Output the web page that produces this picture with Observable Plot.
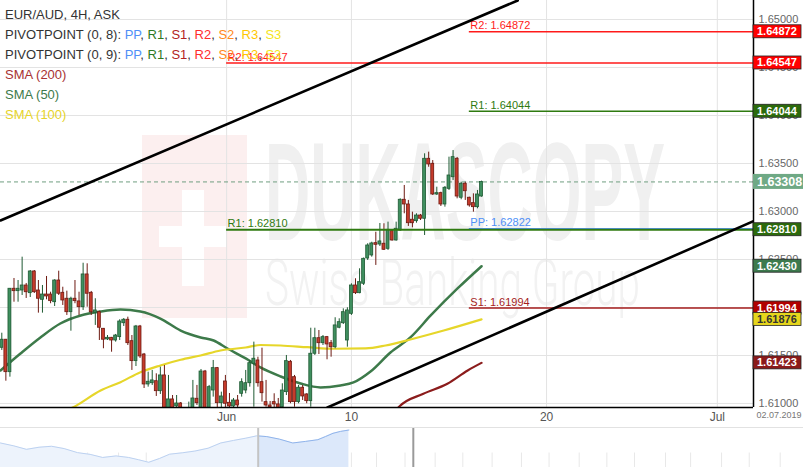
<!DOCTYPE html>
<html>
<head>
<meta charset="utf-8">
<script src="https://cdn.jsdelivr.net/npm/d3@7"></script>
<script src="https://cdn.jsdelivr.net/npm/@observablehq/plot@0.6"></script>
<style>
  body { margin: 0; background: #fff; font-family: "Liberation Sans", Arial, sans-serif; }
  #wrap { position: relative; width: 803px; height: 467px; overflow: hidden; background: #fff; }
  #nav { border-top: 1px solid #e2e2e2; }
  #legend { position: absolute; left: 5px; top: 5px; font-size: 13px; line-height: 20px; color: #333; pointer-events: none; white-space: nowrap; }
  .pp { color: #4f8ff7; } .r1 { color: #2f7a1f; } .s1 { color: #b22222; } .r2 { color: #ff2d2d; }
  .s2 { color: #ff8a1c; } .r3 { color: #ffc800; } .s3 { color: #f5e51a; }
</style>
</head>
<body>
<div id="wrap">
  <div id="main"></div>
  <div id="nav"></div>
  <div id="legend">
    <div>EUR/AUD, 4H, ASK</div>
    <div>PIVOTPOINT (0, 8): <span class="pp">PP</span>, <span class="r1">R1</span>, <span class="s1">S1</span>, <span class="r2">R2</span>, <span class="s2">S2</span>, <span class="r3">R3</span>, <span class="s3">S3</span></div>
    <div>PIVOTPOINT (0, 9): <span class="pp">PP</span>, <span class="r1">R1</span>, <span class="s1">S1</span>, <span class="r2">R2</span>, <span class="s2">S2</span>, <span class="r3">R3</span>, <span class="s3">S3</span></div>
    <div style="color:#a83232">SMA (200)</div>
    <div style="color:#3d7a4a">SMA (50)</div>
    <div style="color:#e6d42a">SMA (100)</div>
  </div>
</div>
<script>
// ---------- DATA ----------
const opens = [
1.61580,1.61664,1.61326,1.62195,1.62170,1.62177,1.62229,1.62149,1.62375,1.62177,
1.62080,1.62135,1.62135,1.62055,1.62281,1.62153,1.62091,1.61951,1.62091,1.62063,
1.62003,1.62344,1.62153,1.61945,1.61951,1.61778,1.61667,1.61684,1.61656,1.61691,
1.61836,1.61872,1.61649,1.61441,1.61802,1.61510,1.61198,1.61211,1.61232,1.61128,
1.61292,1.60906,1.61042,1.60969,1.61000,1.60927,1.60844,1.60927,1.61049,1.60927,
1.61333,1.60927,1.61135,1.61368,1.61003,1.61229,1.61007,1.60969,1.61031,1.61101,
1.61135,1.61211,1.61414,1.61448,1.61222,1.61014,1.60979,1.61014,1.60990,1.60961,
1.61118,1.61434,1.61274,1.61014,1.61164,1.61094,1.61024,1.61518,1.61680,1.61628,
1.61691,1.61628,1.61586,1.61789,1.61836,1.61656,1.61934,1.62229,1.62149,1.62247,
1.62510,1.62542,1.62670,1.62656,1.62664,1.62611,1.62795,1.62698,1.62802,1.63122,
1.63073,1.62914,1.62899,1.62958,1.62924,1.63549,1.63497,1.63177,1.63191,1.63073,
1.63236,1.63357,1.63549,1.63143,1.63289,1.63143,1.63087,1.63045,1.63156];
const highs = [
1.61732,1.61667,1.62198,1.62302,1.62281,1.62524,1.62250,1.62385,1.62385,1.62281,
1.62229,1.62323,1.62159,1.62289,1.62378,1.62211,1.62170,1.62107,1.62281,1.62159,
1.62461,1.62455,1.62167,1.62091,1.61961,1.61781,1.61708,1.61688,1.61719,1.61872,
1.61885,1.61899,1.61708,1.61813,1.61813,1.61521,1.61326,1.61344,1.61309,1.61378,
1.61396,1.61292,1.61083,1.61083,1.61010,1.60948,1.61014,1.61240,1.61188,1.61354,
1.61344,1.61188,1.61448,1.61375,1.61118,1.61292,1.61104,1.61052,1.61083,1.61257,
1.61344,1.61448,1.61639,1.61482,1.61576,1.61240,1.61021,1.61101,1.61052,1.61205,
1.61500,1.61448,1.61292,1.61188,1.61188,1.61101,1.61784,1.61784,1.61760,1.61708,
1.61698,1.61656,1.61893,1.61882,1.61986,1.61997,1.62247,1.62299,1.62403,1.62515,
1.62664,1.62680,1.62784,1.62875,1.62872,1.62889,1.62802,1.62889,1.63132,1.63271,
1.63115,1.62993,1.62976,1.62969,1.63601,1.63618,1.63531,1.63253,1.63201,1.63260,
1.63566,1.63635,1.63563,1.63305,1.63305,1.63149,1.63184,1.63219,1.63316];
const lows = [
1.61552,1.61232,1.61274,1.62055,1.62055,1.62125,1.62094,1.62104,1.62146,1.61941,
1.61941,1.62080,1.62039,1.62010,1.62125,1.62021,1.61917,1.61753,1.62039,1.61917,
1.61969,1.62003,1.61917,1.61813,1.61656,1.61570,1.61656,1.61534,1.61639,1.61656,
1.61802,1.61604,1.61344,1.61385,1.61469,1.61156,1.61170,1.61188,1.61073,1.61094,
1.60823,1.60771,1.60823,1.60875,1.60844,1.60771,1.60771,1.60875,1.60979,1.60875,
1.60823,1.60875,1.61066,1.60927,1.60927,1.60927,1.60906,1.60875,1.60906,1.61066,
1.61101,1.61170,1.60961,1.61170,1.61014,1.60961,1.60906,1.60948,1.60906,1.60927,
1.61083,1.60997,1.60961,1.60997,1.61031,1.60997,1.60961,1.61500,1.61510,1.61604,
1.61455,1.61482,1.61570,1.61778,1.61823,1.61586,1.61917,1.62135,1.62143,1.62229,
1.62490,1.62524,1.62438,1.62635,1.62594,1.62594,1.62691,1.62691,1.62795,1.62976,
1.62844,1.62830,1.62878,1.62906,1.62750,1.63461,1.63167,1.63167,1.63052,1.63045,
1.63219,1.63323,1.63132,1.63122,1.63115,1.63045,1.62993,1.63028,1.63149];
const closes = [
1.61664,1.61326,1.62195,1.62170,1.62195,1.62229,1.62159,1.62375,1.62159,1.62091,
1.62135,1.62115,1.62066,1.62281,1.62143,1.62073,1.61951,1.62091,1.62066,1.62003,
1.62344,1.62143,1.61951,1.61969,1.61789,1.61664,1.61684,1.61656,1.61708,1.61854,
1.61872,1.61628,1.61441,1.61802,1.61490,1.61198,1.61226,1.61240,1.61128,1.61292,
1.60906,1.61042,1.60927,1.61000,1.60927,1.60844,1.60927,1.61052,1.61003,1.61333,
1.60906,1.61170,1.61368,1.61003,1.61073,1.60997,1.60969,1.61031,1.60979,1.61222,
1.61211,1.61420,1.61466,1.61211,1.61107,1.60979,1.60958,1.60990,1.60948,1.61135,
1.61441,1.61014,1.61014,1.61164,1.61073,1.61024,1.61518,1.61680,1.61628,1.61691,
1.61615,1.61586,1.61813,1.61847,1.61951,1.61969,1.62229,1.62149,1.62264,1.62507,
1.62646,1.62667,1.62653,1.62688,1.62601,1.62809,1.62698,1.62820,1.63122,1.63073,
1.62878,1.62878,1.62958,1.62924,1.63549,1.63490,1.63177,1.63191,1.63073,1.63247,
1.63375,1.63566,1.63156,1.63289,1.63211,1.63063,1.63045,1.63177,1.63308];

// moving averages: [candle index, value]
const sma50 = [[-0.32,1.61344],[4.6,1.61521],[9.5,1.61688],[14.4,1.61833],[19.4,1.61917],[24.3,1.61958],[29.2,1.61979],[34.1,1.61958],[39.0,1.61885],[44.0,1.61760],[48.9,1.61688],[52.1,1.61656],[55.5,1.61573],[60.0,1.61469],[63.6,1.61375],[68.6,1.61281],[73.5,1.61208],[78.4,1.61167],[83.3,1.61188],[86.5,1.61219],[90.7,1.61333],[95.6,1.61531],[100.5,1.61688],[105.5,1.61917],[112.1,1.62198],[118,1.62430]];
const sma100 = [[15.9,1.60927],[17.6,1.60961],[24.3,1.61135],[29.2,1.61222],[34.1,1.61326],[39.0,1.61396],[44.0,1.61455],[48.9,1.61500],[53.8,1.61552],[60.0,1.61583],[63.6,1.61609],[68.6,1.61604],[75.2,1.61586],[81.6,1.61570],[89.5,1.61573],[94.4,1.61604],[100.5,1.61667],[108.7,1.61760],[118,1.61876]];
const sma200 = [[96.9,1.60927],[97.6,1.60961],[103.7,1.61101],[109.6,1.61205],[114.6,1.61344],[118,1.61423]];

// channel trend lines: [candle index, price]
const upperChannel = [[-0.32,1.62906],[126.9,1.65198]];
const lowerChannel = [[80.1,1.60958],[184.9,1.62900]];

// pivot levels
const pivotNames  = ["R2","R2","R1","PP","R1","S1"];
const pivotValues = [1.64872,1.64547,1.64044,1.62822,1.62810,1.61994];
const pivotStarts = [115,55.3,115,115,55.3,115];
const pivotColors = ["#ff1a1a","#ff1a1a","#2f7a10","#4f8ff7","#2f7a10","#a51c1c"];
const pivotWidths = [1.4,1.4,1.4,1,2,1.4];

// price tags on right axis
const tagValues  = [1.64872,1.64547,1.64044,1.63308,1.62810,1.62430,1.61994,1.61876,1.61423];
const tagFills   = ["#ff0000","#ff0000","#2c6a0c","#6fa985","#2c6a0c","#3d7a4e","#b00000","#e6d61c","#8b1a1a"];
const tagText    = ["#fff","#fff","#fff","#fff","#fff","#fff","#fff","#333","#fff"];
const currentPrice = 1.63308;

// axes
const priceTicks = [1.61,1.615,1.62,1.625,1.63,1.635,1.64,1.645,1.65];
const dateTickPos = [55.3,86,134,176];
const dateTickLabels = ["Jun","10","20","Jul"];
const dateStamp = "02.07.2019";

// navigator series: [candle index, close]
const navIdx = [-308,-292,-277,-262,-247,-232,-216,-201,-186,-170,-155,-143,-131,-118,-106,-91,-76,-60,-45,-30,-15,-2,10,25,41,56,71,80,89,98,108];
const navVal = [1.6277,1.6262,1.6244,1.6255,1.6260,1.6248,1.6227,1.6218,1.6202,1.6210,1.6202,1.6190,1.6177,1.6197,1.6219,1.6226,1.6235,1.6250,1.6277,1.6290,1.6302,1.6314,1.6310,1.6297,1.6277,1.6285,1.6294,1.6310,1.6327,1.6337,1.6344];
const navGrid = [-271,-204,-167,-134,-63,37,111,141,175,211,244,279,314,347,383,416,449,486,516,553,586,623];

// ---------- CHART ----------
const xDomain = [-0.32, 184.9];
const yDomain = [1.60958, 1.65198];
const candles = opens.map((o, i) => ({i, o, h: highs[i], l: lows[i], c: closes[i], up: closes[i] >= o}));
const pivots = pivotValues.map((v, k) => ({name: pivotNames[k], v, start: pivotStarts[k], color: pivotColors[k], w: pivotWidths[k]}));
const pt = ([i, v]) => ({i, v});

const main = Plot.plot({
  width: 803, height: 427,
  marginTop: 0, marginBottom: 20, marginLeft: 0, marginRight: 50,
  style: {background: "transparent", fontFamily: "'Liberation Sans', Arial, sans-serif", fontSize: "11px", color: "#666", overflow: "visible"},
  x: {domain: xDomain, ticks: dateTickPos, tickFormat: d => dateTickLabels[dateTickPos.indexOf(d)], tickSize: 0, tickPadding: 5, label: null},
  y: {domain: yDomain, axis: "right", ticks: priceTicks, tickFormat: d => d.toFixed(5), tickSize: 0, tickPadding: 5, label: null},
  marks: [
    Plot.ruleY(priceTicks, {stroke: "#e3e3e3"}),
    Plot.ruleX(dateTickPos, {stroke: "#e3e3e3"}),
    Plot.ruleY([currentPrice], {stroke: "#6f9f80", strokeDasharray: "4,3"}),
    Plot.line(sma50.map(pt), {x: "i", y: "v", stroke: "#3d7a4a", strokeWidth: 2.5, curve: "monotone-x", clip: true}),
    Plot.line(sma100.map(pt), {x: "i", y: "v", stroke: "#e6d62a", strokeWidth: 2.2, curve: "monotone-x", clip: true}),
    Plot.line(sma200.map(pt), {x: "i", y: "v", stroke: "#8b1c1c", strokeWidth: 2.2, curve: "monotone-x", clip: true}),
    Plot.ruleX(candles, {x: "i", y1: "l", y2: "h", stroke: d => d.up ? "#1f5a33" : "#6e1a12", strokeWidth: 1, clip: true}),
    Plot.rect(candles, {x1: d => d.i - 0.36, x2: d => d.i + 0.36, y1: "o", y2: "c", fill: d => d.up ? "#3f8f5f" : "#c63b2b", stroke: d => d.up ? "#1f5a33" : "#6e1a12", strokeWidth: 0.8, clip: true}),
    Plot.ruleY(pivots, {y: "v", x1: "start", x2: () => xDomain[1], stroke: "color", strokeWidth: "w", clip: true}),
    Plot.text(pivots, {x: "start", y: "v", text: d => `${d.name}: ${d.v.toFixed(5)}`, fill: "color", textAnchor: "start", dx: 1, dy: -6, fontSize: 11}),
    Plot.line(upperChannel.map(pt), {x: "i", y: "v", stroke: "#000", strokeWidth: 2.6, clip: true}),
    Plot.line(lowerChannel.map(pt), {x: "i", y: "v", stroke: "#000", strokeWidth: 2.6, clip: true}),
    Plot.ruleX([xDomain[1]], {stroke: "#000", strokeWidth: 1.5}),
    Plot.ruleY([yDomain[0]], {stroke: "#000", strokeWidth: 1.5}),
    Plot.text([dateStamp], {text: d => d, frameAnchor: "bottom-right", dx: 3, dy: 10, textAnchor: "start", fontSize: 9, fill: "#777"})
  ]
});
document.getElementById("main").appendChild(main);

const svg = d3.select(main);
// x-axis label style
svg.selectAll('g[aria-label="x-axis tick label"] text, g[aria-label="x-axis"] text').attr("font-size", 12).attr("fill", "#555");

// watermark (decoration) behind everything
const wm = svg.insert("g", ":first-child").attr("pointer-events", "none").attr("text-anchor", "start");
wm.append("rect").attr("x", 142).attr("y", 135).attr("width", 105).attr("height", 183).attr("fill", "#fcefef");
wm.append("rect").attr("x", 182).attr("y", 190).attr("width", 22).attr("height", 96).attr("fill", "#fff");
wm.append("rect").attr("x", 159).attr("y", 226).attr("width", 68).attr("height", 21).attr("fill", "#fff");
wm.append("text").text("DUKASCOPY").attr("x", 265).attr("y", 240).attr("font-size", 140).attr("font-weight", "bold")
  .attr("font-family", "'Liberation Sans', Arial, sans-serif").attr("fill", "#f0f0f0").attr("text-anchor", "start")
  .attr("textLength", 400).attr("lengthAdjust", "spacingAndGlyphs");
wm.append("text").text("Swiss Banking Group").attr("x", 265).attr("y", 305).attr("font-size", 64).attr("font-weight", 300)
  .attr("font-family", "Roboto, 'Liberation Sans', sans-serif").attr("fill", "#f2f2f2").attr("text-anchor", "start")
  .attr("textLength", 375).attr("lengthAdjust", "spacingAndGlyphs");

// price tags on the right axis, positioned via Plot's y scale
const ys = main.scale("y");
const xs = main.scale("x");
const axisX = xs.apply(xDomain[1]);
const tags = svg.append("g").attr("text-anchor", "start");
tagValues.forEach((v, k) => {
  const py = ys.apply(v);
  const isCur = v === currentPrice;
  const h = isCur ? 15 : 13;
  tags.append("rect").attr("x", axisX).attr("y", py - h / 2).attr("width", isCur ? 803 - axisX : 48).attr("height", h)
    .attr("fill", tagFills[k]).attr("stroke", isCur ? "none" : "#222").attr("stroke-width", 0.8);
  tags.append("text").text(v.toFixed(5)).attr("x", axisX + 4).attr("y", py).attr("dy", "0.36em")
    .attr("text-anchor", "start")
    .attr("font-size", isCur ? 12.5 : 11).attr("font-weight", "bold").attr("fill", tagText[k])
    .attr("font-family", "'Liberation Sans', Arial, sans-serif");
});

// ---------- NAVIGATOR ----------
const navData = navIdx.map((n, k) => ({n, v: navVal[k]}));
const nav = Plot.plot({
  width: 803, height: 39, margin: 0,
  style: {background: "#fff", overflow: "visible"},
  x: {domain: [-308, 650.8], axis: null},
  y: {domain: [1.615, 1.6352], axis: null},
  marks: [
    Plot.ruleX(navGrid, {y1: 1.615, y2: 1.6225, stroke: "#e8e8e8"}),
    Plot.areaY(navData, {x: "n", y1: 1.615, y2: "v", fill: "url(#navFill)"}),
    Plot.line(navData, {x: "n", y: "v", stroke: "url(#navStroke)", strokeWidth: 1}),
    Plot.ruleX([xDomain[0]], {stroke: "#c4c4c4", strokeWidth: 2}),
    Plot.ruleX([xDomain[1]], {stroke: "#9a9a9a", strokeWidth: 2})
  ]
});
document.getElementById("nav").appendChild(nav);
const sx = nav.scale("x").apply(xDomain[0]) / 803;
const defs = d3.select(nav).insert("defs", ":first-child");
const g1 = defs.append("linearGradient").attr("id", "navFill").attr("gradientUnits", "userSpaceOnUse").attr("x1", 0).attr("x2", 803).attr("y1", 0).attr("y2", 0);
g1.append("stop").attr("offset", sx).attr("stop-color", "#edf3fc");
g1.append("stop").attr("offset", sx).attr("stop-color", "#dce8fa");
const g2 = defs.append("linearGradient").attr("id", "navStroke").attr("gradientUnits", "userSpaceOnUse").attr("x1", 0).attr("x2", 803).attr("y1", 0).attr("y2", 0);
g2.append("stop").attr("offset", sx).attr("stop-color", "#bcd1f0");
g2.append("stop").attr("offset", sx).attr("stop-color", "#8fb3ea");
</script>
</body>
</html>
